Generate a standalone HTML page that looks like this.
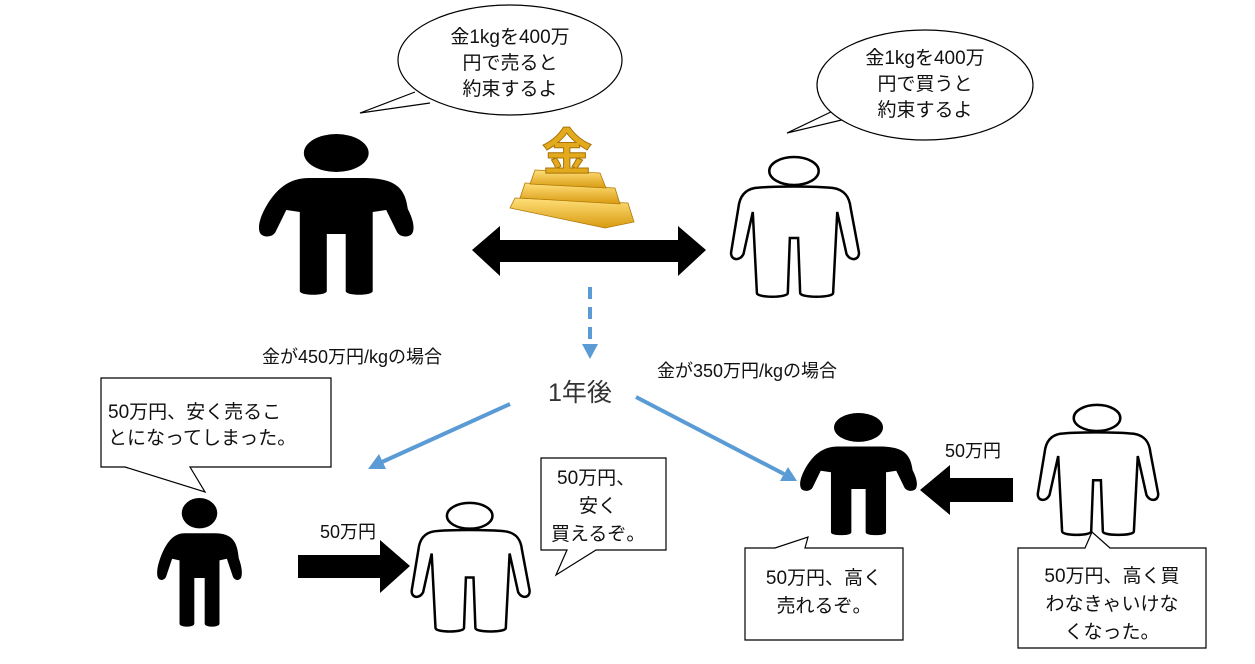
<!DOCTYPE html>
<html><head><meta charset="utf-8"><style>
html,body{margin:0;padding:0;background:#fff}
svg{display:block}
text{font-family:"Liberation Sans","Noto Sans CJK JP",sans-serif;fill:#111}
</style></head><body>
<svg width="1255" height="664" viewBox="0 0 1255 664" xmlns="http://www.w3.org/2000/svg">
<defs>
<linearGradient id="g" x1="0" y1="0" x2="0" y2="1"><stop offset="0" stop-color="#ffe07a"/><stop offset="1" stop-color="#d99a10"/></linearGradient>
<g id="bk">
<ellipse cx="75" cy="19" rx="24" ry="19" fill="#000"/>
<path fill="#000" d="M55,44 L95,44 C120,44 126,55 128,75 C133,88 133,96 131,100 C128,104 122,103 120,98 L112,76 L102,78 L102,157 C102,162 82,162 82,157 L82,100 L68,100 L68,157 C68,162 48,162 48,157 L48,78 L38,76 L30,98 C28,103 22,104 19,100 C17,96 17,88 22,75 C30,55 40,44 55,44 Z"/>
</g>
<g id="wt" fill="#fff" stroke="#000" stroke-width="2.5">
<ellipse cx="66" cy="15" rx="24" ry="14" vector-effect="non-scaling-stroke"/>
<path vector-effect="non-scaling-stroke" d="M28,32 C45,30 85,30 104,32 C116,34 120,42 121,52 L129,96 C130,104 121,106 117,98 L108,56 L104,137 C104,142 72,142 72,137 L70,82 L62,82 L60,137 C60,142 30,142 30,137 L26,56 L17,98 C13,106 4,104 5,96 L12,52 C13,42 17,34 28,32 Z"/>
</g>
</defs>

<path d="M430,103 L360,113 L415,92" fill="#fff" stroke="#000" stroke-width="1.2"/>
<ellipse cx="510" cy="60" rx="112" ry="55" fill="#fff" stroke="#000" stroke-width="1.2"/>
<text font-size="19" text-anchor="middle"><tspan x="510" y="43">金1kgを400万</tspan><tspan x="510" y="69">円で売ると</tspan><tspan x="510" y="95">約束するよ</tspan></text>

<path d="M850,118 L787,133 L835,110" fill="#fff" stroke="#000" stroke-width="1.2"/>
<ellipse cx="925" cy="85" rx="108" ry="55" fill="#fff" stroke="#000" stroke-width="1.2"/>
<text font-size="19" text-anchor="middle"><tspan x="925" y="64">金1kgを400万</tspan><tspan x="925" y="90">円で買うと</tspan><tspan x="925" y="116">約束するよ</tspan></text>

<use href="#bk" transform="translate(235,134) scale(1.35,1)"/>
<use href="#wt" transform="translate(726,156) scale(1.03,1)"/>
<use href="#bk" transform="translate(144,498) scale(0.74,0.8)"/>
<use href="#wt" transform="translate(407,502) scale(0.95,0.92)"/>
<use href="#bk" transform="translate(782,413) scale(1.02,0.76)"/>
<use href="#wt" transform="translate(1033,404) scale(0.97,0.93)"/>

<g stroke="#b07a08" stroke-width="0.8" fill="url(#g)">
<polygon points="515,198 628,203 634,222 605,228 510,208"/>
<polygon points="525,183 615,188 620,204 520,198"/>
<polygon points="535,170 600,173 606,188 530,184"/>
</g>
<text x="567" y="170" font-size="50" font-weight="bold" text-anchor="middle" style="fill:#e2aa1c;stroke:#a8740a;stroke-width:1">金</text>

<polygon fill="#000" points="472,250 500,226 500,240 678,240 678,226 706,250 678,276 678,262 500,262 500,276"/>

<line x1="590" y1="287" x2="590" y2="345" stroke="#5b9bd5" stroke-width="4" stroke-dasharray="12,8"/>
<polygon points="582,344 598,344 590,359" fill="#5b9bd5"/>
<line x1="510" y1="404" x2="382" y2="462" stroke="#5b9bd5" stroke-width="4"/>
<polygon points="368,469 379,454 386,469" fill="#5b9bd5"/>
<line x1="636" y1="397" x2="784" y2="474" stroke="#5b9bd5" stroke-width="4"/>
<polygon points="797,481 780,481 788,467" fill="#5b9bd5"/>

<text x="548" y="401" font-size="25" style="fill:#333">1年後</text>
<text x="262" y="363" font-size="18">金が450万円/kgの場合</text>
<text x="657" y="377" font-size="18">金が350万円/kgの場合</text>

<path d="M101,378 H331 V467 H190 L205,492 L125,467 H101 Z" fill="#fff" stroke="#000" stroke-width="1.2"/>
<text font-size="19"><tspan x="108" y="418">50万円、安く売るこ</tspan><tspan x="108" y="444">とになってしまった。</tspan></text>

<path d="M541,458 H666 V550 H596 L556,575 L567,550 H541 Z" fill="#fff" stroke="#000" stroke-width="1.2"/>
<text font-size="19"><tspan x="557" y="484">50万円、</tspan><tspan x="579" y="512">安く</tspan><tspan x="551" y="540">買えるぞ。</tspan></text>

<path d="M745,548 H775 L808,537 L805,548 H903 V640 H745 Z" fill="#fff" stroke="#000" stroke-width="1.2"/>
<text font-size="19" text-anchor="middle"><tspan x="824" y="584">50万円、高く</tspan><tspan x="824" y="612">売れるぞ。</tspan></text>

<path d="M1018,548 H1085 L1092,532 L1110,548 H1206 V648 H1018 Z" fill="#fff" stroke="#000" stroke-width="1.2"/>
<text font-size="19" text-anchor="middle"><tspan x="1112" y="582">50万円、高く買</tspan><tspan x="1112" y="610">わなきゃいけな</tspan><tspan x="1112" y="638">くなった。</tspan></text>

<polygon fill="#000" points="298,555 380,555 380,540 410,566 380,593 380,578 298,578"/>
<text x="320" y="538" font-size="18">50万円</text>
<polygon fill="#000" points="920,490 950,465 950,478 1013,478 1013,502 950,502 950,515"/>
<text x="945" y="457" font-size="18">50万円</text>
</svg>
</body></html>
